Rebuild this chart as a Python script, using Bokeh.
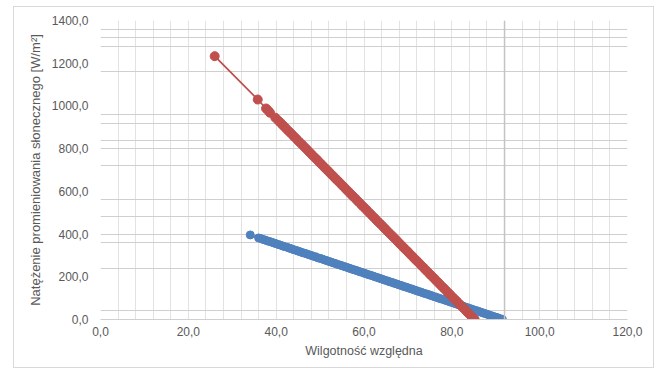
from bokeh.plotting import figure
from bokeh.models import FixedTicker, Span, ColumnDataSource
from bokeh.embed import file_html
from bokeh.resources import INLINE

# ---- data ----
x_ticks = [0, 20, 40, 60, 80, 100, 120]
x_tick_labels = ["0,0", "20,0", "40,0", "60,0", "80,0", "100,0", "120,0"]
y_ticks = [0, 200, 400, 600, 800, 1000, 1200, 1400]
y_tick_labels = ["0,0", "200,0", "400,0", "600,0", "800,0", "1000,0", "1200,0", "1400,0"]

x_title = "Wilgotność względna"
y_title = "Natężenie promieniowania słonecznego [W/m²]"

red_x = [26.0, 35.8, 37.7, 38.2, 38.6, 39.8,
         40.5, 41.0, 41.5, 42.0, 42.5, 43.0, 43.5, 44.0, 44.5, 45.0,
         45.5, 46.0, 46.5, 47.0, 47.5, 48.0, 48.5, 49.0, 49.5, 50.0,
         50.5, 51.0, 51.5, 52.0, 52.5, 53.0, 53.5, 54.0, 54.5, 55.0,
         55.5, 56.0, 56.5, 57.0, 57.5, 58.0, 58.5, 59.0, 59.5, 60.0,
         60.5, 61.0, 61.5, 62.0, 62.5, 63.0, 63.5, 64.0, 64.5, 65.0,
         65.5, 66.0, 66.5, 67.0, 67.5, 68.0, 68.5, 69.0, 69.5, 70.0,
         70.5, 71.0, 71.5, 72.0, 72.5, 73.0, 73.5, 74.0, 74.5, 75.0,
         75.5, 76.0, 76.5, 77.0, 77.5, 78.0, 78.5, 79.0, 79.5, 80.0,
         80.5, 81.0, 81.5, 82.0, 82.5, 83.0, 83.5, 84.0, 84.5, 85.0, 85.2]
red_y = [1233, 1030, 988, 978, 968, 945,
         931, 921, 910, 900, 889, 879, 869, 858, 848, 837,
         827, 817, 806, 796, 785, 775, 764, 754, 744, 733,
         723, 712, 702, 692, 681, 671, 660, 650, 640, 629,
         619, 608, 598, 587, 577, 567, 556, 546, 535, 525,
         515, 504, 494, 483, 473, 462, 452, 442, 431, 421,
         410, 400, 390, 379, 369, 358, 348, 337, 327, 317,
         306, 296, 285, 275, 265, 254, 244, 233, 223, 212,
         202, 192, 181, 171, 160, 150, 140, 129, 119, 108,
         98, 88, 77, 67, 56, 46, 35, 25, 15, 4, 0]

blue_x = [34.1,
          36.0, 36.5, 37.0, 37.5, 38.0, 38.5, 39.0, 39.5, 40.0, 40.5,
          41.0, 41.5, 42.0, 42.5, 43.0, 43.5, 44.0, 44.5, 45.0, 45.5,
          46.0, 46.5, 47.0, 47.5, 48.0, 48.5, 49.0, 49.5, 50.0, 50.5,
          51.0, 51.5, 52.0, 52.5, 53.0, 53.5, 54.0, 54.5, 55.0, 55.5,
          56.0, 56.5, 57.0, 57.5, 58.0, 58.5, 59.0, 59.5, 60.0, 60.5,
          61.0, 61.5, 62.0, 62.5, 63.0, 63.5, 64.0, 64.5, 65.0, 65.5,
          66.0, 66.5, 67.0, 67.5, 68.0, 68.5, 69.0, 69.5, 70.0, 70.5,
          71.0, 71.5, 72.0, 72.5, 73.0, 73.5, 74.0, 74.5, 75.0, 75.5,
          76.0, 76.5, 77.0, 77.5, 78.0, 78.5, 79.0, 79.5, 80.0, 80.5,
          81.0, 81.5, 82.0, 82.5, 83.0, 83.5, 84.0, 84.5, 85.0, 85.5,
          86.0, 86.5, 87.0, 87.5, 88.0, 88.5, 89.0, 89.5, 90.0, 90.5,
          91.0, 91.5]
blue_y = [396,
          382, 379, 375, 372, 368, 365, 362, 358, 355, 351,
          348, 344, 341, 338, 334, 331, 327, 324, 320, 317,
          313, 310, 307, 303, 300, 296, 293, 289, 286, 283,
          279, 276, 272, 269, 265, 262, 258, 255, 252, 248,
          245, 241, 238, 234, 231, 228, 224, 221, 217, 214,
          210, 207, 204, 200, 197, 193, 190, 186, 183, 179,
          176, 173, 169, 166, 162, 159, 155, 152, 149, 145,
          142, 138, 135, 131, 128, 124, 121, 118, 114, 111,
          107, 104, 100, 97, 94, 90, 87, 83, 80, 76,
          73, 69, 66, 63, 59, 56, 52, 49, 45, 42,
          39, 35, 32, 28, 25, 21, 18, 14, 11, 8,
          4, 1]

# ---- styling ----
RED = "#C0504D"
BLUE = "#4F81BD"
TEXT = "#595959"
FONT = "Liberation Sans"

p = figure(width=641, height=362, output_backend="svg", toolbar_location=None,
           x_range=(0, 120), y_range=(0, 1400),
           min_border_left=86, min_border_right=28, min_border_top=13, min_border_bottom=50)
p.styles = {"border": "1px solid #d9d9d9", "margin-left": "13px", "margin-top": "6px"}
p.outline_line_color = None

# grid
p.xgrid.ticker = FixedTicker(ticks=list(range(0, 121, 4)))
p.xgrid.grid_line_color = "#e2e2e2"
p.xgrid.grid_line_width = 1
p.ygrid.ticker = FixedTicker(ticks=[0, 40, 240, 360, 400, 480, 560, 720, 800, 840,
                                    920, 960, 1160, 1280, 1320, 1360, 1400])
p.ygrid.grid_line_color = "#cfcfcf"
p.ygrid.grid_line_width = 1
p.add_layout(Span(location=92, dimension="height", line_color="#c4c4c4", line_width=1.5))

# axes
p.xaxis.ticker = FixedTicker(ticks=x_ticks)
p.xaxis.major_label_overrides = dict(zip(x_ticks, x_tick_labels))
p.yaxis.ticker = FixedTicker(ticks=y_ticks)
p.yaxis.major_label_overrides = dict(zip(y_ticks, y_tick_labels))
for ax in (p.xaxis, p.yaxis):
    ax.major_tick_line_color = None
    ax.minor_tick_line_color = None
    ax.major_tick_out = 0
    ax.major_tick_in = 0
    ax.minor_tick_out = 0
    ax.major_label_text_font = FONT
    ax.major_label_text_font_size = "12px"
    ax.major_label_text_color = TEXT
    ax.axis_label_text_font = FONT
    ax.axis_label_text_font_size = "12.5px"
    ax.axis_label_text_color = TEXT
    ax.axis_label_text_font_style = "normal"
p.yaxis.axis_label_text_font_size = "13px"
p.xaxis.axis_line_color = "#cfcfcf"
p.yaxis.axis_line_color = None
p.xaxis.major_label_standoff = 7
p.yaxis.major_label_standoff = 12
p.xaxis.axis_label = x_title
p.yaxis.axis_label = y_title
p.xaxis.axis_label_standoff = 5
p.yaxis.axis_label_standoff = 6

# series
blue_src = ColumnDataSource(dict(x=blue_x, y=blue_y))
red_src = ColumnDataSource(dict(x=red_x, y=red_y))
p.line("x", "y", source=blue_src, line_color=BLUE, line_width=1.75)
p.scatter("x", "y", source=blue_src, size=8, fill_color=BLUE, line_color=BLUE)
p.line("x", "y", source=red_src, line_color=RED, line_width=1.75)
p.scatter("x", "y", source=red_src, size=9, fill_color=RED, line_color=RED)

open("out.html", "w").write(file_html(p, INLINE))
